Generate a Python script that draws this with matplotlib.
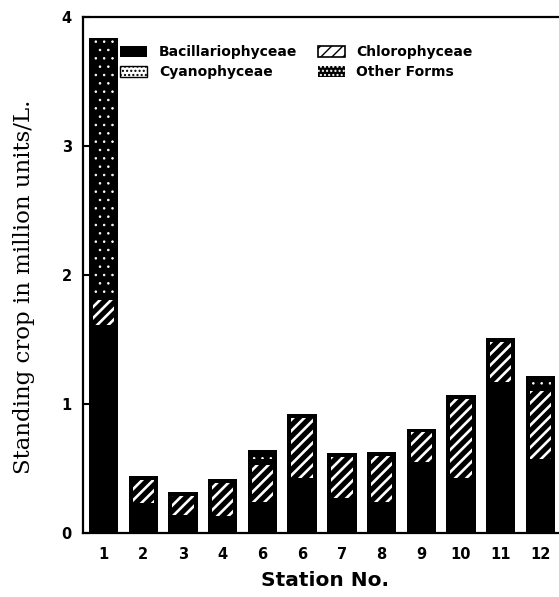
import numpy as np
import matplotlib
matplotlib.use("Agg")
import matplotlib.pyplot as plt
from matplotlib.patches import Patch

# station numbers and standing crop (million units / L)
stations = [1, 2, 3, 4, 5, 6, 7, 8, 9, 10, 11, 12]
station_labels = ['1', '2', '3', '4', '6', '6', '7', '8', '9', '10', '11', '12']
bacillariophyceae = [1.58, 0.20, 0.11, 0.10, 0.21, 0.40, 0.24, 0.21, 0.52, 0.40, 1.14, 0.54]
chlorophyceae = [0.26, 0.24, 0.21, 0.32, 0.35, 0.52, 0.38, 0.42, 0.29, 0.67, 0.37, 0.59]
cyanophyceae = [0, 0, 0, 0, 0, 0, 0, 0, 0, 0, 0, 0]
other_forms = [2.00, 0, 0, 0, 0.08, 0, 0, 0, 0, 0, 0, 0.09]

fig = plt.figure(figsize=(5.59, 5.97), dpi=100)
ax = fig.add_axes([83 / 559, 64 / 597, 1 - 83 / 559, 516 / 597])

x = np.array(stations)
w = 0.74      # bar width
wi = 0.54     # width of the patterned inner part
pad = 0.03    # vertical black margin round the stripes
pad_o = 0.012 # smaller margin round the dots
bac = np.array(bacillariophyceae)
chl = np.array(chlorophyceae)
cya = np.array(cyanophyceae)
oth = np.array(other_forms)

# the bars are black throughout, the groups are told apart by the white pattern
ax.bar(x, bac, width=w, color='black', linewidth=0)
ax.bar(x, chl, width=w, bottom=bac, color='black', linewidth=0)
ax.bar(x, cya, width=w, bottom=bac + chl, color='white', edgecolor='black', linewidth=0)
ax.bar(x, oth, width=w, bottom=bac + chl + cya, color='black', linewidth=0)

# Chlorophyceae: white diagonal stripes (edgecolor sets the hatch colour)
with plt.rc_context({'hatch.linewidth': 1.9}):
    ax.bar(x, np.clip(chl - 2 * pad, 0, None), width=wi, bottom=bac + pad,
           facecolor='none', edgecolor='white', hatch='///', linewidth=0)
# other forms: small white dots
with plt.rc_context({'hatch.linewidth': 0.6}):
    ax.bar(x, np.clip(oth - 2 * pad_o, 0, None), width=wi, bottom=bac + chl + cya + pad_o,
           facecolor='none', edgecolor='white', hatch='..', linewidth=0)

ax.set_xlim(0.48, 12.47)
ax.set_ylim(0, 4)
ax.set_xticks(x)
ax.set_xticklabels(station_labels)
ax.set_yticks([0, 1, 2, 3, 4])
ax.set_yticklabels(['0', '1', '2', '3', '4'])

for lab in ax.get_xticklabels() + ax.get_yticklabels():
    lab.set_fontfamily('DejaVu Sans')
    lab.set_fontweight('bold')
    lab.set_fontsize(10.5)

ax.tick_params(axis='x', length=0, pad=10)
ax.tick_params(axis='y', direction='in', length=5, width=1.5, pad=8)

ax.spines['right'].set_visible(False)
for s in ['left', 'top', 'bottom']:
    ax.spines[s].set_linewidth(1.6)

ax.set_ylabel('Standing crop in million units/L.', family='DejaVu Serif', fontsize=16.5)
ax.yaxis.set_label_coords(-0.10, 0.477)
ax.set_xlabel('Station No.', family='DejaVu Sans', fontweight='bold', fontsize=14.5)
ax.xaxis.set_label_coords(0.508, -0.074)

with plt.rc_context({'hatch.linewidth': 1.0}):
    handles = [
        Patch(facecolor='black', linewidth=0, label='Bacillariophyceae'),
        Patch(facecolor='white', edgecolor='black', hatch='....', linewidth=1, label='Cyanophyceae'),
        Patch(facecolor='white', edgecolor='black', hatch='///', linewidth=1.2, label='Chlorophyceae'),
        Patch(facecolor='black', edgecolor='white', hatch='....', linewidth=0, label='Other Forms'),
    ]
ax.legend(handles=handles, ncol=2, loc='upper left', bbox_to_anchor=(0.078, 0.946),
          frameon=False, borderpad=0, borderaxespad=0, handlelength=1.95,
          handleheight=0.85, handletextpad=0.85, columnspacing=1.45, labelspacing=0.45,
          prop={'family': 'DejaVu Sans', 'weight': 'bold', 'size': 10})

fig.savefig('out.png', dpi=100)
